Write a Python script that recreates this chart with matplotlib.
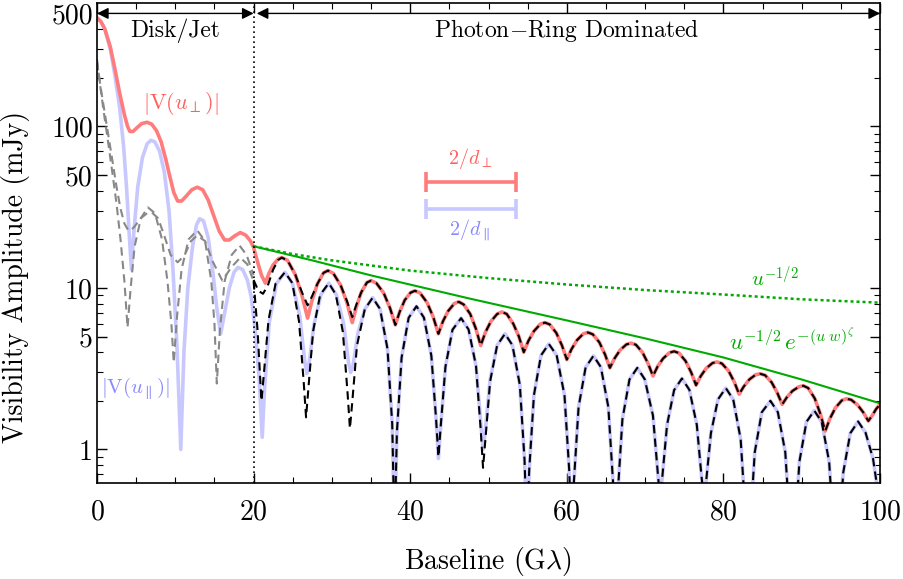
import matplotlib

matplotlib.use("Agg")
import matplotlib.pyplot as plt
from matplotlib.ticker import FixedLocator, MultipleLocator, NullFormatter, LogLocator

plt.rcParams["font.family"] = "cmr10"
plt.rcParams["mathtext.fontset"] = "cm"
plt.rcParams["axes.formatter.use_mathtext"] = True

RED = "#ff7c7c"
BLUE = "#c8c8ff"
GREEN = "#00aa00"

# |V(u_perp)|
red_x = [0, 0.5, 1.0, 1.7, 2.3, 2.9, 3.5, 3.9, 4.2, 4.6, 5.1, 5.7, 6.4, 7.0, 7.6, 8.2,
         8.8, 9.3, 9.8, 10.3, 10.8, 11.4, 12.1, 12.8, 13.5, 14.2, 14.9, 15.6, 16.3,
         16.9, 17.6, 18.3, 19.0, 19.6, 20.0, 20.5, 21.0, 21.5, 21.96, 22.5, 23.14,
         23.6, 24.33, 25.32, 26.17, 26.9, 27.47, 28.15, 28.93, 29.5, 30.18, 31.11,
         31.92, 32.6, 33.13, 33.75, 34.47, 35.0, 35.68, 36.61, 37.42, 38.1, 38.65,
         39.3, 40.05, 40.6, 41.26, 42.16, 42.94, 43.6, 44.17, 44.85, 45.63, 46.2,
         46.82, 47.66, 48.38, 49.0, 49.59, 50.3, 51.11, 51.7, 52.32, 53.16, 53.88,
         54.5, 55.09, 55.8, 56.61, 57.2, 57.82, 58.66, 59.38, 60.0, 60.59, 61.3,
         62.11, 62.7, 63.32, 64.16, 64.88, 65.5, 66.09, 66.8, 67.61, 68.2, 68.82,
         69.66, 70.38, 71.0, 71.59, 72.3, 73.11, 73.7, 74.32, 75.16, 75.88, 76.5,
         77.09, 77.8, 78.61, 79.2, 79.82, 80.66, 81.38, 82.0, 82.59, 83.3, 84.11,
         84.7, 85.32, 86.16, 86.88, 87.5, 88.09, 88.8, 89.61, 90.2, 90.82, 91.66,
         92.38, 93.0, 93.59, 94.3, 95.11, 95.7, 96.32, 97.16, 97.88, 98.5, 99.0,
         99.5, 100.0]
red_y = [470, 445, 400, 310, 225, 160, 118, 100, 93, 93, 98, 104, 106, 103, 94, 80,
         62, 49, 39, 34.5, 34.5, 37, 40.5, 42, 40.5, 35, 28, 22.5, 19.8,
         19.8, 21, 22, 21.2, 19.5, 17.8, 14.5, 12, 10.7, 12.3, 13.9, 15.1,
         15.4, 14.8, 12.1, 9.0, 6.5, 8.4, 10.6, 12.4, 12.8, 12.3, 10.4,
         8.1, 6.1, 7.65, 9.4, 10.8, 11.1, 10.7, 9.3, 7.5, 5.9, 7.1,
         8.4, 9.35, 9.6, 9.3, 8.1, 6.6, 5.2, 6.2, 7.2, 8.0, 8.2,
         7.9, 6.9, 5.6, 4.4, 5.3, 6.2, 6.9, 7.1, 6.9, 6.0, 5.0,
         4.0, 4.7, 5.4, 5.97, 6.1, 5.94, 5.26, 4.4, 3.6, 4.17, 4.75,
         5.2, 5.3, 5.16, 4.6, 3.87, 3.2, 3.66, 4.12, 4.47, 4.55, 4.45,
         3.99, 3.4, 2.85, 3.26, 3.66, 3.97, 4.05, 3.95, 3.53, 3.0, 2.5,
         2.84, 3.18, 3.43, 3.48, 3.4, 3.06, 2.62, 2.2, 2.45, 2.71, 2.9,
         2.94, 2.88, 2.6, 2.24, 1.9, 2.1, 2.3, 2.44, 2.48, 2.4, 2.07,
         1.66, 1.3, 1.55, 1.81, 2.01, 2.06, 2.03, 1.88, 1.69, 1.5, 1.62,
         1.78, 1.9]

# |V(u_par)|
blue_x = [0, 0.5, 1.0, 1.7, 2.3, 2.9, 3.4, 3.8, 4.1, 4.4, 4.7, 5.2, 5.8, 6.4, 6.9, 7.4,
          8.0, 8.6, 9.2, 9.7, 10.2, 10.7, 11.1, 11.6, 12.2, 12.7, 13.1, 13.6, 14.2,
          14.8, 15.3, 15.8, 16.3, 16.9, 17.5, 18.0, 18.6, 19.2, 19.7, 20.2, 20.7,
          21.1, 21.4, 22.0, 22.9, 24.0, 24.95, 25.9, 26.5, 26.8, 27.1, 27.7, 28.6,
          29.6, 30.55, 31.5, 32.1, 32.4, 32.7, 33.3, 34.2, 35.2, 36.15, 37.1, 37.7,
          38.0, 38.3, 38.9, 39.8, 40.8, 41.75, 42.7, 43.3, 43.6, 43.9, 44.5, 45.4,
          46.5, 47.45, 48.4, 49.0, 49.3, 49.6, 50.2, 51.1, 52.1, 53.05, 54.0, 54.6,
          54.9, 55.2, 55.8, 56.7, 57.7, 58.7, 59.7, 60.3, 60.6, 60.9, 61.5, 62.4,
          63.4, 64.35, 65.3, 65.9, 66.2, 66.5, 67.1, 68.0, 69.0, 69.95, 71.0, 71.6,
          71.9, 72.2, 72.8, 73.7, 74.7, 75.65, 76.6, 77.2, 77.5, 77.8, 78.4, 79.3,
          80.3, 81.25, 82.2, 82.8, 83.1, 83.4, 84.0, 84.9, 86.0, 86.95, 87.9, 88.5,
          88.8, 89.1, 89.7, 90.6, 91.6, 92.55, 93.5, 94.1, 94.4, 94.7, 95.3, 96.2,
          97.2, 98.15, 99.1, 99.7, 100.0]
blue_y = [470, 445, 400, 300, 205, 130, 75, 40, 22, 13, 22, 42, 64, 78, 82, 80,
          70, 52, 30, 13, 4.5, 1.0, 4, 10, 18, 24.5, 26.8, 26, 20.5,
          12.5, 7.5, 5.2, 7.0, 10, 12.5, 13.4, 13, 11.2, 8.8, 5.5, 2.8,
          1.19, 2.4, 6.1, 10.6, 12.5, 10.7, 6.7, 3.6, 2.95, 3.45, 5.9, 9.07,
          10.7, 9.1, 6.0, 3.5, 3.0, 3.3, 5.2, 7.38, 8.7, 7.4, 4.19, 1.44,
          0.3, 1.28, 3.71, 6.53, 7.7, 6.55, 3.8, 1.55, 0.88, 1.4, 3.25, 5.51,
          6.5, 5.53, 3.3, 1.47, 1.0, 1.32, 2.7, 4.41, 5.2, 4.42, 2.51, 0.86,
          0.3, 0.75, 2.17, 3.82, 4.5, 3.83, 2.17, 0.75, 0.3, 0.63, 1.83, 3.22,
          3.8, 3.23, 1.83, 0.63, 0.3, 0.53, 1.54, 2.71, 3.2, 2.72, 1.62, 0.73,
          0.5, 0.68, 1.42, 2.33, 2.75, 2.34, 1.42, 0.68, 0.5, 0.64, 1.26, 2.04,
          2.4, 2.04, 1.16, 0.4, 0.3, 0.33, 0.96, 1.7, 2.0, 1.7, 0.96, 0.33,
          0.3, 0.29, 0.84, 1.48, 1.74, 1.48, 0.84, 0.29, 0.2, 0.25, 0.72, 1.26,
          1.49, 1.27, 0.88, 0.56, 0.5]

# approximations (black dashed, u > 20)
upper_x = [20.0, 20.6, 21.2, 21.8, 22.5, 23.14, 23.6, 24.33, 25.32, 26.17, 26.9, 27.47,
           28.15, 28.93, 29.5, 30.18, 31.11, 31.92, 32.6, 33.13, 33.75, 34.47, 35.0,
           35.68, 36.61, 37.42, 38.1, 38.65, 39.3, 40.05, 40.6, 41.26, 42.16, 42.94,
           43.6, 44.17, 44.85, 45.63, 46.2, 46.82, 47.66, 48.38, 49.0, 49.59, 50.3,
           51.11, 51.7, 52.32, 53.16, 53.88, 54.5, 55.09, 55.8, 56.61, 57.2, 57.82,
           58.66, 59.38, 60.0, 60.59, 61.3, 62.11, 62.7, 63.32, 64.16, 64.88, 65.5,
           66.09, 66.8, 67.61, 68.2, 68.82, 69.66, 70.38, 71.0, 71.59, 72.3, 73.11,
           73.7, 74.32, 75.16, 75.88, 76.5, 77.09, 77.8, 78.61, 79.2, 79.82, 80.66,
           81.38, 82.0, 82.59, 83.3, 84.11, 84.7, 85.32, 86.16, 86.88, 87.5, 88.09,
           88.8, 89.61, 90.2, 90.82, 91.66, 92.38, 93.0, 93.59, 94.3, 95.11, 95.7,
           96.32, 97.16, 97.88, 98.5, 99.0, 99.5, 100.0]
upper_y = [11.2, 9.6, 9.2, 10.3, 13.0, 14.9, 15.4, 14.8, 12.1, 9.4, 7.8, 8.9,
           10.6, 12.4, 12.8, 12.3, 10.4, 8.3, 6.6, 7.9, 9.4, 10.8, 11.1,
           10.7, 9.3, 7.5, 5.9, 7.1, 8.4, 9.35, 9.6, 9.3, 8.1, 6.6,
           5.2, 6.2, 7.2, 8.0, 8.2, 7.9, 6.9, 5.6, 4.4, 5.3, 6.2,
           6.9, 7.1, 6.9, 6.0, 5.0, 4.0, 4.7, 5.4, 5.97, 6.1, 5.94,
           5.26, 4.4, 3.6, 4.17, 4.75, 5.2, 5.3, 5.16, 4.6, 3.87, 3.2,
           3.66, 4.12, 4.47, 4.55, 4.45, 3.99, 3.4, 2.85, 3.26, 3.66, 3.97,
           4.05, 3.95, 3.53, 3.0, 2.5, 2.84, 3.18, 3.43, 3.48, 3.4, 3.06,
           2.62, 2.2, 2.45, 2.71, 2.9, 2.94, 2.88, 2.6, 2.24, 1.9, 2.1,
           2.3, 2.44, 2.48, 2.4, 2.07, 1.66, 1.3, 1.55, 1.81, 2.01, 2.06,
           2.03, 1.88, 1.69, 1.5, 1.62, 1.78, 1.9]
lower_x = [20.0, 20.5, 21.0, 21.3, 21.9, 22.8, 24.0, 24.95, 25.8, 26.4, 26.7, 27.0,
           27.6, 28.5, 29.6, 30.5, 31.4, 32.0, 32.3, 32.6, 33.2, 34.2, 35.2, 36.15,
           37.1, 37.7, 38.0, 38.3, 38.9, 39.8, 40.8, 41.75, 42.7, 43.3, 43.6, 43.9,
           44.5, 45.4, 46.5, 47.45, 48.4, 49.0, 49.3, 49.6, 50.2, 51.1, 52.1, 53.05,
           54.0, 54.6, 54.9, 55.2, 55.8, 56.7, 57.7, 58.7, 59.7, 60.3, 60.6, 60.9,
           61.5, 62.4, 63.4, 64.35, 65.3, 65.9, 66.2, 66.5, 67.1, 68.0, 69.0, 69.95,
           71.0, 71.6, 71.9, 72.2, 72.8, 73.7, 74.7, 75.65, 76.6, 77.2, 77.5, 77.8,
           78.4, 79.3, 80.3, 81.25, 82.2, 82.8, 83.1, 83.4, 84.0, 84.9, 86.0, 86.95,
           87.9, 88.5, 88.8, 89.1, 89.7, 90.6, 91.6, 92.55, 93.5, 94.1, 94.4, 94.7,
           95.3, 96.2, 97.2, 98.15, 99.1, 99.7, 100.0]
lower_y = [11, 5.5, 2.0, 2.9, 6.3, 10.6, 12.5, 10.7, 6.2, 2.6, 1.58, 2.4,
           5.4, 9.07, 10.7, 9.1, 5.33, 2.23, 1.35, 1.97, 4.4, 7.38, 8.7, 7.4,
           4.19, 1.44, 0.3, 1.28, 3.71, 6.53, 7.7, 6.55, 3.8, 1.55, 0.9, 1.4,
           3.25, 5.51, 6.5, 5.53, 3.3, 1.33, 0.77, 1.15, 2.63, 4.41, 5.2, 4.42,
           2.51, 0.86, 0.3, 0.75, 2.17, 3.82, 4.5, 3.83, 2.17, 0.75, 0.3, 0.63,
           1.83, 3.22, 3.8, 3.23, 1.83, 0.63, 0.3, 0.53, 1.54, 2.71, 3.2, 2.72,
           1.62, 0.73, 0.5, 0.68, 1.42, 2.33, 2.75, 2.34, 1.42, 0.68, 0.5, 0.64,
           1.26, 2.04, 2.4, 2.04, 1.16, 0.4, 0.3, 0.33, 0.96, 1.7, 2.0, 1.7,
           0.96, 0.33, 0.3, 0.29, 0.84, 1.48, 1.74, 1.48, 0.84, 0.29, 0.2, 0.25,
           0.72, 1.26, 1.49, 1.27, 0.88, 0.56, 0.5]

# same approximations outside their range (grey dashed, u < 20)
grey_a_x = [0, 0.5, 1.0, 1.5, 2.0, 2.5, 3.0, 3.5, 3.9, 4.3, 4.8, 5.6, 6.5, 7.4, 8.3, 9.0,
            9.5, 9.8, 10.2, 10.8, 11.7, 12.8, 13.8, 14.6, 15.0, 15.3, 15.7, 16.3, 17.2,
            18.2, 19.1, 20.0]
grey_a_y = [260, 165, 110, 75, 50, 33, 20, 11, 5.7, 10, 18, 27, 31.5, 29, 20, 11,
            6, 3.45, 6.5, 13, 20, 22.7, 19.5, 11, 6, 2.56, 5.5, 11, 16,
            18.3, 16, 12]
grey_b_x = [0, 0.5, 1.0, 1.5, 2.0, 2.5, 3.0, 3.5, 4.0, 4.3, 4.8, 5.6, 6.4, 7.0, 7.8, 8.6,
            9.4, 10.3, 11.2, 12.0, 12.8, 13.8, 14.8, 16.0, 17.2, 18.3, 19.2, 20.0]
grey_b_y = [250, 170, 120, 85, 60, 42, 31, 25, 22.7, 22.7, 24, 27, 29, 29.3, 27, 21,
            16, 14.4, 16, 19.5, 21.1, 19.5, 14.5, 11.1, 13.5, 15.4, 14, 11]

# envelopes
env_x = [20, 27.5, 35, 47.5, 60, 70, 80, 90, 100]
env_y = [18.1, 14.8, 11.95, 8.61, 6.29, 4.87, 3.71, 2.71, 1.93]
pow_x = [20, 25, 30, 40, 50, 60, 70, 80, 90, 100]
pow_y = [18.1, 16.2, 14.8, 12.8, 11.5, 10.5, 9.7, 9.1, 8.5, 8.1]

# 2/d bars
bar_x = [42.0, 53.5]
bar_perp_y = 45
bar_par_y = 31

fig = plt.figure(figsize=(9.04, 5.79), dpi=100)
ax = fig.add_axes([0.1073, 0.1658, 0.8662, 0.829])

dash = (0, (4, 2.5))
ax.plot(blue_x, blue_y, color=BLUE, lw=2.6, solid_joinstyle="round")
ax.plot(red_x, red_y, color=RED, lw=2.6, solid_joinstyle="round")
ax.plot(grey_a_x, grey_a_y, color="#888888", lw=1.5, ls=dash)
ax.plot(grey_b_x, grey_b_y, color="#888888", lw=1.5, ls=dash)
ax.plot(lower_x, lower_y, color="k", lw=1.5, ls=dash)
ax.plot(upper_x, upper_y, color="k", lw=1.5, ls=dash)
ax.plot(pow_x, pow_y, color=GREEN, lw=1.8, ls=(0, (1.2, 1.2)))
ax.plot(env_x, env_y, color=GREEN, lw=1.5)

ax.axvline(20, color="k", ls=(0, (1, 2)), lw=1.2)

mid = sum(bar_x) / 2
half = (bar_x[1] - bar_x[0]) / 2
ax.errorbar(mid, bar_perp_y, xerr=half, color=RED, lw=2.6, capsize=7, capthick=2.6, fmt="none")
ax.errorbar(mid, bar_par_y, xerr=half, color=BLUE, lw=2.6, capsize=7, capthick=2.6, fmt="none")

arrow = dict(arrowstyle="<|-|>", color="k", lw=1.0, mutation_scale=17, shrinkA=0, shrinkB=0)
ax.annotate("", xy=(0, 500), xytext=(20, 500), arrowprops=arrow)
ax.annotate("", xy=(20.4, 500), xytext=(100, 500), arrowprops=arrow)

ax.text(10, 390, "Disk/Jet", ha="center", va="center", fontsize=17)
ax.text(60, 390, r"Photon$-$Ring Dominated", ha="center", va="center", fontsize=17)
ax.text(10.7, 139, r"$|\mathrm{V}(u_\perp)|$", color="#ff6060", ha="center", va="center", fontsize=16)
ax.text(4.85, 2.39, r"$|\mathrm{V}(u_\parallel)|$", color="#8888ff", ha="center", va="center", fontsize=15)
ax.text(47.6, 63, r"$2/d_\perp$", color="#ff6060", ha="center", va="center", fontsize=14.5)
ax.text(47.6, 22.7, r"$2/d_\parallel$", color="#8888ff", ha="center", va="center", fontsize=14.5)
ax.text(86.6, 11.5, r"$u^{-1/2}$", color=GREEN, ha="center", va="center", fontsize=15)
ax.text(88.7, 4.7, r"$u^{-1/2}\,e^{-(u\;w)^\zeta}$", color=GREEN, ha="center", va="center", fontsize=16.5)

ax.set_yscale("log")
ax.set_xlim(0, 100)
ax.set_ylim(0.62, 580)
ax.yaxis.set_major_locator(FixedLocator([1, 5, 10, 50, 100, 500]))
ax.yaxis.set_minor_locator(LogLocator(base=10, subs=range(2, 10)))
ax.yaxis.set_minor_formatter(NullFormatter())
ax.set_yticklabels(["1", "5", "10", "50", "100", "500"])
ax.xaxis.set_major_locator(MultipleLocator(20))
ax.xaxis.set_minor_locator(MultipleLocator(5))
ax.tick_params(which="both", direction="in", top=True, right=True, labelsize=20)
ax.tick_params(which="major", length=7, width=1)
ax.tick_params(which="minor", length=4, width=0.8)
ax.tick_params(axis="x", which="major", pad=12)
ax.tick_params(axis="y", which="major", pad=3)
for s in ax.spines.values():
    s.set_linewidth(1.2)

ax.set_xlabel(r"Baseline (G$\lambda$)", fontsize=20, labelpad=14)
ax.set_ylabel("Visibility Amplitude (mJy)", fontsize=20)
ax.yaxis.set_label_coords(-0.086, 0.43)

fig.savefig("out.png", dpi=100)
